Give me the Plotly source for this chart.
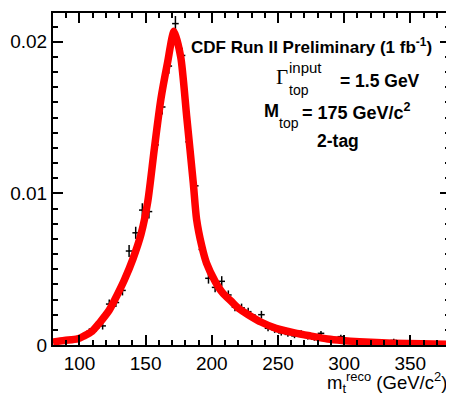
import plotly.graph_objects as go

# Data histogram (5 GeV bins)
bin_centers = [82.5 + 5 * i for i in range(60)]
data_vals = [0.0002, 0.0002, 0.0003, 0.0004, 0.0005, 0.0009, 0.0011, 0.00126, 0.0027, 0.0028,
             0.0036, 0.0062, 0.0074, 0.0089, 0.0088, 0.0132, 0.0157, 0.0184, 0.0212, 0.0191,
             0.0134, 0.0105, 0.0063, 0.0044, 0.0038, 0.0042, 0.0033, 0.0025, 0.00245, 0.0022,
             0.0018, 0.0020, 0.0011, 0.0010, 0.0008, 0.0007, 0.0006, 0.0008, 0.0005, 0.0004,
             0.00077, 0.0004, 0.0003, 0.00055, 0.0002, 0.0002, 0.00015, 0.00015, 0.0001, 0.00012,
             0.0002, 0.0003, 0.0001, 0.0001, 0.00008, 0.00006, 0.00006, 0.00005, 0.00005, 0.00004]
data_errs = [0.0001, 0.0001, 0.00012, 0.00014, 0.00016, 0.0002, 0.00022, 0.00024, 0.0003, 0.0003,
             0.00033, 0.0004, 0.0004, 0.00045, 0.00045, 0.0005, 0.0005, 0.0005, 0.0005, 0.0005,
             0.0005, 0.00045, 0.0004, 0.00035, 0.00032, 0.00034, 0.0003, 0.00028, 0.00028, 0.00026,
             0.00024, 0.00025, 0.0002, 0.0002, 0.00018, 0.00016, 0.00015, 0.00018, 0.00014, 0.00012,
             0.00016, 0.00012, 0.0001, 0.00013, 0.0001, 0.0001, 0.0001, 0.0001, 0.0001, 0.0001,
             0.0001, 0.00012, 0.0001, 0.0001, 0.0001, 0.0001, 0.0001, 0.0001, 0.0001, 0.0001]
half_bin = [2.5] * len(bin_centers)

# Fit curve
curve_x = [80, 88.5, 98.5, 103.5, 109.5, 115.5, 122.5, 128.5, 134, 140.5, 146.5, 151.5,
           156.5, 161.5, 166.5, 171.5, 176.5, 181, 186, 188.5, 192.5, 196, 202.5, 208.5,
           214.5, 220.5, 227.5, 237.5, 248.5, 262.5, 274.5, 287.5, 298.5, 311.5, 336.5,
           358.5, 380]
curve_y = [0.0002, 0.0003, 0.0004, 0.0006, 0.0009, 0.0015, 0.0023, 0.0033, 0.0043, 0.0057,
           0.0073, 0.0094, 0.0129, 0.0162, 0.0186, 0.0207, 0.0190, 0.0151, 0.0107, 0.0083,
           0.0065, 0.0054, 0.0042, 0.0034, 0.0029, 0.0024, 0.0020, 0.0015, 0.0011, 0.0008,
           0.0006, 0.0004, 0.0003, 0.00022, 0.00012, 0.00008, 0.00005]

x_tickvals = [100, 150, 200, 250, 300, 350]
y_tickvals = [0, 0.01, 0.02]
y_ticktext = ["0", "0.01", "0.02"]

fig = go.Figure()
fig.add_trace(go.Scatter(
    x=bin_centers, y=data_vals, mode="markers",
    marker=dict(size=1, color="black"),
    error_y=dict(type="data", array=data_errs, color="black", thickness=1.5, width=0),
    error_x=dict(type="data", array=half_bin, color="black", thickness=1.5, width=0),
    showlegend=False, hoverinfo="skip"))
fig.add_trace(go.Scatter(
    x=curve_x, y=curve_y, mode="lines",
    line=dict(color="#ff0000", width=7.5, shape="spline", smoothing=0.7),
    showlegend=False, hoverinfo="skip"))

font_family = "Liberation Sans, Arial, sans-serif"
# page body has an 8px margin, so the figure is 8px smaller than the window
fig.update_layout(
    width=446, height=387,
    margin=dict(l=42, r=2, t=5, b=50),
    paper_bgcolor="white", plot_bgcolor="white",
    font=dict(family=font_family, color="black"),
    xaxis=dict(range=[80, 380], tickvals=x_tickvals, ticks="inside", ticklen=10,
               tickwidth=1.5, tickcolor="black", showline=True, linecolor="black",
               linewidth=2, mirror="allticks", showgrid=False, zeroline=False,
               tickfont=dict(size=19), minor=dict(dtick=10, ticks="inside", ticklen=5,
                                                   tickwidth=1.5, tickcolor="black")),
    yaxis=dict(range=[0, 0.0219], tickvals=y_tickvals, ticktext=y_ticktext, ticks="inside",
               ticklen=10, tickwidth=1.5, tickcolor="black", showline=True, linecolor="black",
               linewidth=2, mirror="allticks", showgrid=False, zeroline=False,
               tickfont=dict(size=19), minor=dict(dtick=0.001, tick0=0, ticks="inside", ticklen=5,
                                                   tickwidth=1.5, tickcolor="black")),
)

def px2paper(px, py):
    return (px - 50) / 402.0, (345 - py) / 332.0

ann = []
def add(px, py, text, size, xanchor="left", family=font_family):
    x, y = px2paper(px, py)
    ann.append(dict(x=x, y=y, text=text, font=dict(size=size, family=family), xanchor=xanchor,
                    xref="paper", yref="paper", yanchor="middle", showarrow=False))

add(312, 46, "<b>CDF Run II Preliminary (1 fb<sup>-1</sup>)</b>", 17, "center")
add(274, 77, "Γ", 21, "left", "Liberation Serif, Times New Roman, serif")
add(287, 68, "input", 15)
add(287, 90, "top", 14)
add(339, 81, "<b>= 1.5 GeV</b>", 17.5)
add(262, 111, "<b>M</b>", 18)
add(277, 123, "top", 14)
add(300, 111, "<b>= 175 GeV/c<sup>2</sup></b>", 18)
add(339, 141, "<b>2-tag</b>", 17.5, "center")
add(451, 382, "m<sub>t</sub><sup>reco</sup> (GeV/c<sup>2</sup>)", 18.5, "right")
fig.update_layout(annotations=ann)

fig.write_html("out.html")
